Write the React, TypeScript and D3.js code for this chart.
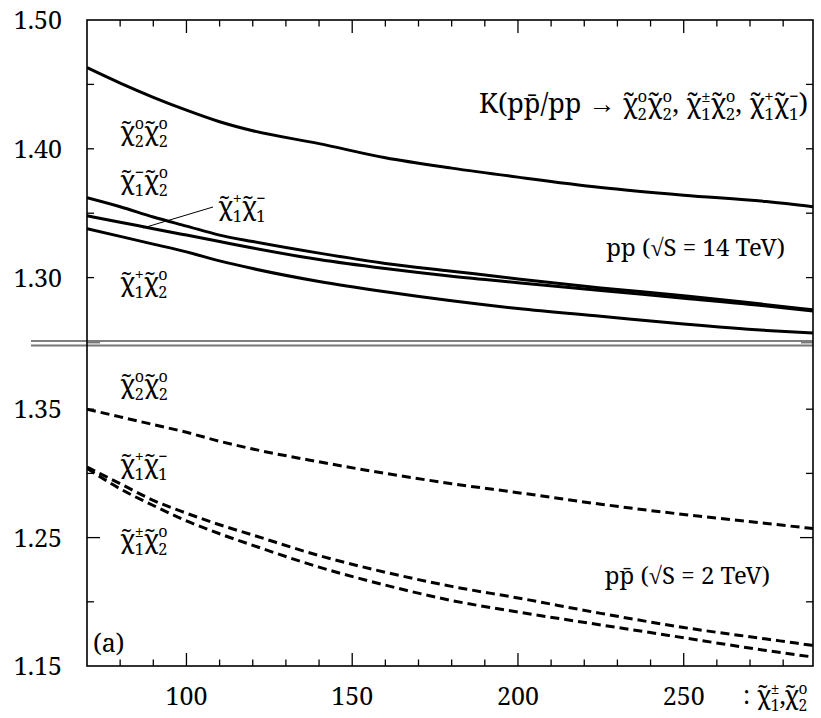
import * as d3 from "d3";

// chargino / neutralino mass (GeV)
const massX = [70, 80, 90, 100, 110, 120, 140, 160, 180, 200, 225, 250, 275, 289];

// K factors, pp at 14 TeV (solid)
const lhcN2N2 = [1.463, 1.451, 1.44, 1.43, 1.421, 1.414, 1.404, 1.393, 1.385, 1.378, 1.37, 1.364, 1.359, 1.355];
const lhcC1N2m = [1.362, 1.355, 1.347, 1.34, 1.333, 1.328, 1.319, 1.311, 1.305, 1.299, 1.292, 1.286, 1.279, 1.275];
const lhcC1C1 = [1.348, 1.343, 1.338, 1.333, 1.328, 1.323, 1.314, 1.307, 1.301, 1.296, 1.29, 1.284, 1.278, 1.274];
const lhcC1N2p = [1.338, 1.332, 1.326, 1.32, 1.313, 1.307, 1.297, 1.289, 1.282, 1.276, 1.27, 1.264, 1.259, 1.257];

// K factors, ppbar at 2 TeV (dashed)
const tevN2N2 = [1.35, 1.344, 1.338, 1.332, 1.325, 1.319, 1.309, 1.3, 1.292, 1.285, 1.276, 1.268, 1.261, 1.257];
const tevC1C1 = [1.305, 1.292, 1.279, 1.269, 1.26, 1.252, 1.236, 1.223, 1.212, 1.203, 1.191, 1.18, 1.171, 1.166];
const tevC1N2 = [1.304, 1.288, 1.275, 1.263, 1.253, 1.244, 1.227, 1.213, 1.201, 1.192, 1.182, 1.172, 1.162, 1.157];

const xTicks = [80, 90, 100, 110, 120, 130, 140, 150, 160, 170, 180, 190, 200, 210, 220, 230, 240, 250, 260, 270, 280];
const xMajor = [100, 150, 200, 250];
const topTicks = [1.45, 1.4, 1.35, 1.3];
const topLabels = [1.5, 1.4, 1.3];
const botTicks = [1.35, 1.3, 1.25, 1.2];
const botMajor = [1.25];
const botLabels = [1.35, 1.25, 1.15];

const W = 821, H = 718;
const L = 87, R = 813, T = 20, B = 666;
const FAM = "Noto Serif";
const SERIF = { fontFamily: FAM };

type Seg = string | [string, string];

// text with tilde-chi carrying stacked sub/superscripts
function rich(segs: Seg[], fs: number) {
  const s = fs * 0.62;
  const w = s * 0.56;
  const down = 0.26 * fs;
  const up = 0.42 * fs;
  let off = 0;
  const out: any[] = [];
  segs.forEach((seg, i) => {
    if (typeof seg === "string") {
      out.push(<tspan key={i} style={SERIF} fontSize={fs} dy={-off}>{seg}</tspan>);
      off = 0;
    } else {
      out.push(<tspan key={i + "a"} style={SERIF} fontSize={fs} dy={-off}>{"\u03c7\u0303"}</tspan>);
      out.push(<tspan key={i + "b"} style={SERIF} fontSize={s} dy={down}>{seg[0]}</tspan>);
      out.push(<tspan key={i + "c"} style={SERIF} fontSize={s} dx={-w} dy={-(down + up)}>{seg[1]}</tspan>);
      off = -up;
    }
  });
  return out;
}

function Txt(props: any) {
  const { children, ...rest } = props;
  return (
    <text style={SERIF} fill="#000" {...rest}>
      {children}
    </text>
  );
}

export default function App() {
  const x = d3.scaleLinear().domain([70, 289]).range([L, R]);
  const yTop = d3.scaleLinear().domain([1.25, 1.5]).range([342, T]);
  const yBot = d3.scaleLinear().domain([1.15, 1.4]).range([B, 345]);

  const lineTop = d3.line<number>().x((_, i) => x(massX[i])).y((d) => yTop(d)).curve(d3.curveMonotoneX);
  const lineBot = d3.line<number>().x((_, i) => x(massX[i])).y((d) => yBot(d)).curve(d3.curveMonotoneX);

  const fsTick = 25;
  const fsLab = 26;

  return (
    <svg width={W} height={H} style={{ position: "absolute", left: 0, top: 0, background: "#fff" }}>
      <defs>
        <clipPath id="plot">
          <rect x={L} y={T} width={R - L} height={B - T} />
        </clipPath>
      </defs>

      {/* curves */}
      <g clipPath="url(#plot)" fill="none" stroke="#000" strokeWidth={3}>
        {[lhcN2N2, lhcC1N2m, lhcC1C1, lhcC1N2p].map((s, i) => (
          <path key={"t" + i} d={lineTop(s) || ""} />
        ))}
        {[tevN2N2, tevC1C1, tevC1N2].map((s, i) => (
          <path key={"b" + i} d={lineBot(s) || ""} strokeDasharray="9,5" />
        ))}
      </g>

      {/* panel separator */}
      <line x1={31} x2={R} y1={341} y2={341} stroke="#000" strokeWidth={1.2} />
      <line x1={31} x2={R} y1={345.5} y2={345.5} stroke="#777" strokeWidth={2} />
      <line x1={L} x2={L + 13} y1={342.7} y2={342.7} stroke="#777" strokeWidth={1.5} />
      <line x1={R - 12} x2={R} y1={342.7} y2={342.7} stroke="#777" strokeWidth={1.5} />

      {/* frame */}
      <rect x={L} y={T} width={R - L} height={B - T} fill="none" stroke="#000" strokeWidth={1.6} />

      {/* ticks */}
      <g stroke="#000" strokeWidth={1.3}>
        {xTicks.map((t) => {
          const len = xMajor.includes(t) ? 13 : 6.5;
          return (
            <g key={t}>
              <line x1={x(t)} x2={x(t)} y1={B} y2={B - len} />
              <line x1={x(t)} x2={x(t)} y1={T} y2={T + len} />
            </g>
          );
        })}
        {topTicks.map((t) => (
          <g key={"yt" + t}>
            <line x1={L} x2={L + 7} y1={yTop(t)} y2={yTop(t)} />
            <line x1={R} x2={R - 7} y1={yTop(t)} y2={yTop(t)} />
          </g>
        ))}
        {botTicks.map((t) => {
          const len = botMajor.includes(t) ? 13 : 7;
          return (
            <g key={"yb" + t}>
              <line x1={L} x2={L + len} y1={yBot(t)} y2={yBot(t)} />
              <line x1={R} x2={R - len} y1={yBot(t)} y2={yBot(t)} />
            </g>
          );
        })}
      </g>

      {/* tick labels */}
      {xMajor.map((t) => (
        <Txt key={"xl" + t} x={x(t)} y={705} fontSize={fsTick} textAnchor="middle">{t}</Txt>
      ))}
      {topLabels.map((t) => (
        <Txt key={"tl" + t} x={62} y={yTop(t) + 9} fontSize={fsTick} textAnchor="end">{t.toFixed(2)}</Txt>
      ))}
      {botLabels.map((t) => (
        <Txt key={"bl" + t} x={62} y={yBot(t) + 9} fontSize={fsTick} textAnchor="end">{t.toFixed(2)}</Txt>
      ))}
      <Txt x={743} y={704} fontSize={fsTick}>{rich([": ", ["1", "\u00b1"], ",", ["2", "o"]], fsTick)}</Txt>

      {/* title & annotations */}
      <Txt x={808} y={113} fontSize={27} textAnchor="end">
        {rich(["K(pp\u0304/pp \u2192 ", ["2", "o"], ["2", "o"], ", ", ["1", "\u00b1"], ["2", "o"], ", ", ["1", "+"], ["1", "\u2212"], ")"], 27)}
      </Txt>
      <Txt x={785} y={256} fontSize={24} textAnchor="end">{"pp (\u221aS = 14 TeV)"}</Txt>
      <Txt x={770} y={584} fontSize={24} textAnchor="end">{"pp\u0304 (\u221aS = 2 TeV)"}</Txt>
      <Txt x={93} y={652} fontSize={fsTick}>(a)</Txt>

      <Txt x={120} y={140} fontSize={fsLab}>{rich([["2", "o"], ["2", "o"]], fsLab)}</Txt>
      <Txt x={120} y={189} fontSize={fsLab}>{rich([["1", "\u2212"], ["2", "o"]], fsLab)}</Txt>
      <Txt x={218} y={215} fontSize={fsLab}>{rich([["1", "+"], ["1", "\u2212"]], fsLab)}</Txt>
      <Txt x={120} y={291} fontSize={fsLab}>{rich([["1", "+"], ["2", "o"]], fsLab)}</Txt>
      <Txt x={120} y={393} fontSize={fsLab}>{rich([["2", "o"], ["2", "o"]], fsLab)}</Txt>
      <Txt x={120} y={473} fontSize={fsLab}>{rich([["1", "+"], ["1", "\u2212"]], fsLab)}</Txt>
      <Txt x={120} y={548} fontSize={fsLab}>{rich([["1", "\u00b1"], ["2", "o"]], fsLab)}</Txt>

      {/* leader line */}
      <line x1={213} y1={207} x2={143} y2={228} stroke="#000" strokeWidth={1} />
    </svg>
  );
}
